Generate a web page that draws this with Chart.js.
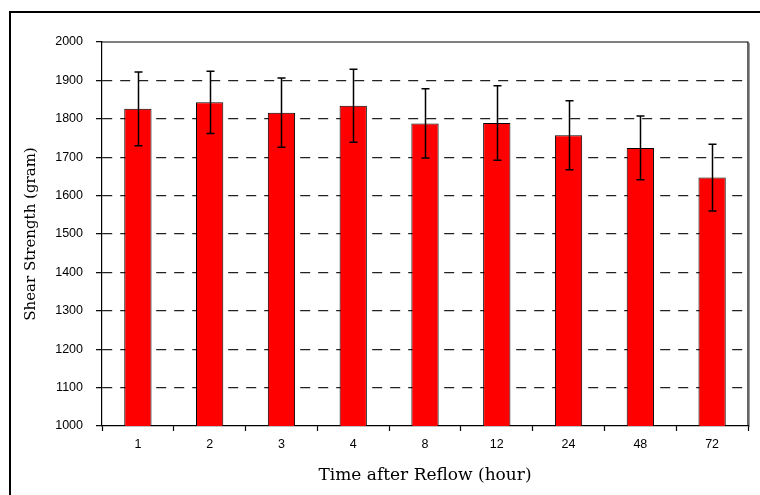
<!DOCTYPE html>
<html>
<head>
<meta charset="utf-8">
<script src="https://cdn.jsdelivr.net/npm/chart.js@4/dist/chart.umd.min.js"></script>
<style>
    html, body { margin: 0; padding: 0; background: #fff; }
    #wrap { width: 760px; height: 495px; }
</style>
</head>
<body>
<div id="wrap"><canvas id="chart" width="760" height="495"></canvas></div>
<script>
// values
const hours = ['1', '2', '3', '4', '8', '12', '24', '48', '72'];
const shearMean = [1826, 1843, 1816, 1834, 1788, 1789, 1757, 1724, 1647];
const shearErr = [96, 81, 90, 95, 90, 97, 90, 83, 87];
const yTicks = [1000, 1100, 1200, 1300, 1400, 1500, 1600, 1700, 1800, 1900, 2000];

// outer frame (only left + top edges are in view) and the plot box
const framePlugin = {
    id: 'frame',
    beforeDraw(chart) {
        const c = chart.ctx;
        c.save();
        c.fillStyle = '#fff';
        c.fillRect(0, 0, chart.width, chart.height);
        c.strokeStyle = '#000';
        c.lineWidth = 2;
        c.beginPath();
        c.moveTo(10, chart.height);
        c.lineTo(10, 12);
        c.lineTo(chart.width, 12);
        c.stroke();
        c.restore();
    },
    afterDraw(chart) {
        const a = chart.chartArea;
        const c = chart.ctx;
        c.save();
        c.strokeStyle = '#999';
        c.lineWidth = 1;
        c.beginPath();
        c.moveTo(a.right + 1.5, a.top + 1);
        c.lineTo(a.right + 1.5, a.bottom + 1);
        c.stroke();
        c.strokeStyle = '#000';
        c.lineWidth = 1.2;
        c.beginPath();
        c.moveTo(a.left, a.top);
        c.lineTo(a.right, a.top);
        c.lineTo(a.right, a.bottom);
        c.stroke();
        c.restore();
    }
};

const errorBarPlugin = {
    id: 'errorBars',
    afterDatasetsDraw(chart) {
        const meta = chart.getDatasetMeta(0);
        const y = chart.scales.y;
        const c = chart.ctx;
        c.save();
        c.strokeStyle = '#000';
        c.lineWidth = 1.5;
        meta.data.forEach((bar, i) => {
            const top = y.getPixelForValue(shearMean[i] + shearErr[i]);
            const bot = y.getPixelForValue(shearMean[i] - shearErr[i]);
            const x = Math.round(bar.x) + 0.5;
            c.beginPath();
            c.moveTo(x, top);
            c.lineTo(x, bot);
            c.moveTo(x - 4, top);
            c.lineTo(x + 4, top);
            c.moveTo(x - 4, bot);
            c.lineTo(x + 4, bot);
            c.stroke();
        });
        c.restore();
    }
};

new Chart(document.getElementById('chart'), {
    type: 'bar',
    data: {
        labels: hours,
        datasets: [{
            data: shearMean,
            backgroundColor: '#ff0000',
            borderColor: '#000',
            borderWidth: 1,
            categoryPercentage: 1,
            barPercentage: 0.38
        }]
    },
    options: {
        responsive: false,
        animation: false,
        layout: { padding: { left: 10, top: 42, right: 12, bottom: 0 } },
        plugins: {
            legend: { display: false },
            tooltip: { enabled: false }
        },
        scales: {
            x: {
                grid: {
                    drawOnChartArea: false,
                    drawTicks: true,
                    tickLength: 5,
                    tickColor: '#000',
                    tickWidth: 1.2,
                    offset: true
                },
                border: { display: true, color: '#000', width: 1.2 },
                ticks: {
                    color: '#000',
                    padding: 6,
                    font: { family: 'Liberation Sans', size: 12.5 }
                },
                title: {
                    display: true,
                    text: 'Time after Reflow (hour)',
                    color: '#000',
                    padding: { top: 0, bottom: 9 },
                    font: { family: 'DejaVu Serif', size: 17 }
                },
                afterFit: (scale) => { scale.height = 69; }
            },
            y: {
                min: 1000,
                max: 2000,
                afterBuildTicks: (scale) => { scale.ticks = yTicks.map(v => ({ value: v })); },
                grid: {
                    color: (ctx) => (ctx.tick && (ctx.tick.value === 1000 || ctx.tick.value === 2000)) ? 'rgba(0,0,0,0)' : '#222',
                    lineWidth: 1.3,
                    tickColor: '#000',
                    tickWidth: 1.2,
                    tickLength: 6,
                    tickBorderDash: [],
                    drawTicks: true
                },
                border: { display: true, color: '#000', width: 1.2, dash: [10, 8] },
                ticks: {
                    color: '#000',
                    padding: 13,
                    callback: (v) => String(v),
                    font: { family: 'Liberation Sans', size: 12.5 }
                },
                title: {
                    display: true,
                    text: 'Shear Strength (gram)',
                    color: '#000',
                    padding: { top: 12, bottom: 0 },
                    font: { family: 'DejaVu Serif', size: 15 }
                },
                afterFit: (scale) => { scale.width = 92; }
            }
        }
    },
    plugins: [framePlugin, errorBarPlugin]
});
</script>
</body>
</html>
